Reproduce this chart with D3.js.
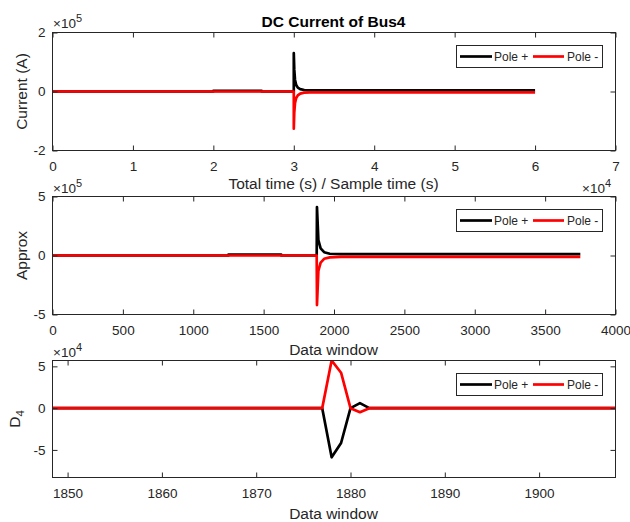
<!DOCTYPE html>
<html>
<head>
<meta charset="utf-8">
<script src="https://cdn.jsdelivr.net/npm/d3@7"></script>
<style>
  body { margin: 0; background: #fff; }
  text { font-family: "Liberation Sans", Arial, sans-serif; fill: #262626; }
</style>
</head>
<body>
<script>
// ---- data ----
// panel 1: DC current vs total time / sample time
const tX     = [0, 20000, 20000, 26000, 26000, 30000, 30000, 30060, 30150, 30300, 30500, 30800, 31300, 32000, 60000];
const tPlus  = [0, 0, 2200, 2200, 0, 0, 130000, 75000, 40000, 22000, 13000, 8000, 5000, 4000, 4000];
const tMinus = [0, 0, 0, 0, 0, 0, -126000, -72000, -40000, -22000, -13000, -7000, -4000, -3000, -3000];

// panel 2: approximation coefficients vs data window
const aX     = [0, 1250, 1250, 1625, 1625, 1877, 1879, 1889, 1905, 1930, 1970, 2050, 3750];
const aPlus  = [0, 0, 7000, 7000, 0, 0, 410000, 130000, 60000, 28000, 15000, 12000, 12000];
const aMinus = [0, 0, 0, 0, 0, 0, -420000, -130000, -60000, -28000, -16000, -12000, -12000];

// panel 3: detail level 4 vs data window (zoomed)
const dX     = [1840, 1877, 1878, 1879, 1880, 1881, 1882, 1915];
const dPlus  = [0, 0, -58800, -41700, 0, 6000, 0, 0];
const dMinus = [0, 0, 57000, 42400, 0, -4800, 0, 0];

const seriesNames = ["Pole +", "Pole -"];
const seriesColors = ["#000000", "#ff0000"];

const tXTicks = [0, 10000, 20000, 30000, 40000, 50000, 60000, 70000];
const tYTicks = [-200000, 0, 200000];
const aXTicks = d3.range(0, 4001, 500);
const aYTicks = [-500000, 0, 500000];
const dXTicks = [1850, 1860, 1870, 1880, 1890, 1900];
const dYTicks = [-50000, 0, 50000];

// ---- layout ----
const width = 630, height = 522;
const L = 52.5, R = 615.5;

const svg = d3.select("body").append("svg")
  .attr("width", width)
  .attr("height", height);

const panels = [
  { top: 32.5, bottom: 150.5, xDom: [0, 70000], yDom: [-200000, 200000],
    x: tX, ys: [tPlus, tMinus], xt: tXTicks, yt: tYTicks,
    xf: d => d / 1e4, yf: d => d / 1e5, legendY: 45.5 },
  { top: 196.5, bottom: 314.5, xDom: [0, 4000], yDom: [-500000, 500000],
    x: aX, ys: [aPlus, aMinus], xt: aXTicks, yt: aYTicks,
    xf: d => d, yf: d => d / 1e5, legendY: 209.5 },
  { top: 360.5, bottom: 477.5, xDom: [1848.4, 1908.1], yDom: [-83000, 57000],
    x: dX, ys: [dPlus, dMinus], xt: dXTicks, yt: dYTicks,
    xf: d => d, yf: d => d / 1e4, legendY: 373.5 }
];

panels.forEach((p, i) => {
  const x = d3.scaleLinear().domain(p.xDom).range([L, R]);
  const y = d3.scaleLinear().domain(p.yDom).range([p.bottom, p.top]);
  const g = svg.append("g");

  g.append("clipPath").attr("id", "clip" + i)
    .append("rect")
    .attr("x", L).attr("y", p.top)
    .attr("width", R - L).attr("height", p.bottom - p.top);

  // lines
  const line = d3.line().x(d => x(d[0])).y(d => y(d[1]));
  p.ys.forEach((vals, k) => {
    g.append("path")
      .datum(p.x.map((v, j) => [v, vals[j]]))
      .attr("clip-path", `url(#clip${i})`)
      .attr("d", line)
      .attr("fill", "none")
      .attr("stroke", seriesColors[k])
      .attr("stroke-width", 2.7)
      .attr("stroke-linejoin", "round");
  });

  // axes, ticks pointing inwards
  const bottomAxis = g.append("g").attr("transform", `translate(0,${p.bottom})`)
    .call(d3.axisBottom(x).tickValues(p.xt).tickFormat(p.xf).tickSizeInner(-5).tickSizeOuter(0));
  bottomAxis.selectAll("text").attr("y", 20).attr("dy", 0).style("font-size", "13.5px");

  g.append("g").attr("transform", `translate(0,${p.top})`)
    .call(d3.axisTop(x).tickValues(p.xt).tickFormat("").tickSizeInner(-5).tickSizeOuter(0));

  const leftAxis = g.append("g").attr("transform", `translate(${L},0)`)
    .call(d3.axisLeft(y).tickValues(p.yt).tickFormat(p.yf).tickSizeInner(-5).tickSizeOuter(0).tickPadding(7));
  leftAxis.selectAll("text").style("font-size", "13.5px");

  g.append("g").attr("transform", `translate(${R},0)`)
    .call(d3.axisRight(y).tickValues(p.yt).tickFormat("").tickSizeInner(-5).tickSizeOuter(0));

  g.selectAll(".domain").remove();
  g.selectAll(".tick line").attr("stroke", "#262626");
  g.selectAll(".tick text").attr("fill", "#262626");

  g.append("rect")
    .attr("x", L).attr("y", p.top)
    .attr("width", R - L).attr("height", p.bottom - p.top)
    .attr("fill", "none").attr("stroke", "#262626").attr("stroke-width", 1);

  // legend
  const lg = g.append("g").attr("transform", `translate(456.5,${p.legendY})`);
  lg.append("rect").attr("width", 146).attr("height", 22)
    .attr("fill", "#fff").attr("stroke", "#262626").attr("stroke-width", 1);
  const items = [{ x0: 3.5, x1: 35.5, tx: 37.5 }, { x0: 76.5, x1: 107.5, tx: 110.5 }];
  seriesNames.forEach((name, k) => {
    lg.append("line").attr("x1", items[k].x0).attr("x2", items[k].x1)
      .attr("y1", 11).attr("y2", 11)
      .attr("stroke", seriesColors[k]).attr("stroke-width", 2.7);
    lg.append("text").attr("x", items[k].tx).attr("y", 15.3)
      .style("font-size", "12px").text(name);
  });
});

// exponent labels
function expLabel(x, yb, exp) {
  const t = svg.append("text").attr("x", x).attr("y", yb).style("font-size", "13.5px");
  t.append("tspan").text("\u00d710");
  t.append("tspan").attr("dy", -6).style("font-size", "11px").text(exp);
}
expLabel(53, 28.3, "5");
expLabel(53, 192.6, "5");
expLabel(53, 356.6, "4");
expLabel(582, 193.3, "4");

// title and axis labels
svg.append("text").attr("x", 333.5).attr("y", 26.5)
  .attr("text-anchor", "middle").style("font-size", "15.5px").style("font-weight", "bold")
  .style("fill", "#000").text("DC Current of Bus4");

const xLabels = [
  { y: 189, text: "Total time (s) / Sample time (s)" },
  { y: 355, text: "Data window" },
  { y: 519, text: "Data window" }
];
xLabels.forEach(d => {
  svg.append("text").attr("x", 333.5).attr("y", d.y)
    .attr("text-anchor", "middle").style("font-size", "15.5px").text(d.text);
});

svg.append("text").attr("transform", "translate(26.5,91.5) rotate(-90)")
  .attr("text-anchor", "middle").style("font-size", "15.5px").text("Current (A)");
svg.append("text").attr("transform", "translate(26.5,255.5) rotate(-90)")
  .attr("text-anchor", "middle").style("font-size", "15.5px").text("Approx");
const d4 = svg.append("text").attr("transform", "translate(19.5,419) rotate(-90)")
  .attr("text-anchor", "middle").style("font-size", "15.5px");
d4.append("tspan").text("D");
d4.append("tspan").attr("dy", 4).style("font-size", "11.5px").text("4");
</script>
</body>
</html>
